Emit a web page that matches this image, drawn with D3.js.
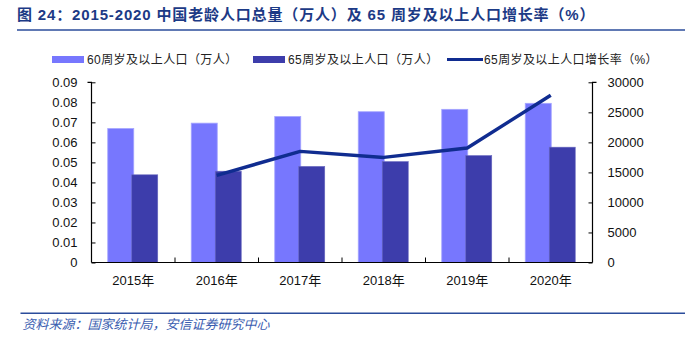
<!DOCTYPE html>
<html><head><meta charset="utf-8">
<script src="https://cdn.jsdelivr.net/npm/d3@7"></script>
<style>
body{margin:0;background:#fff;}
svg{display:block;font-family:"Liberation Sans",Arial,"Noto Sans CJK SC",sans-serif;}
</style></head>
<body>
<svg id="chart" width="685" height="346"></svg>
<script>
const years = ["2015年","2016年","2017年","2018年","2019年","2020年"];
const pop60 = [22300, 23200, 24300, 25100, 25500, 26500];
const pop65 = [14600, 15200, 16000, 16800, 17800, 19200];
const rateYears = ["2016年","2017年","2018年","2019年","2020年"];
const rate65 = [0.0435, 0.0555, 0.0525, 0.0572, 0.0835];
const leftTicks = [0,0.01,0.02,0.03,0.04,0.05,0.06,0.07,0.08,0.09];
const rightTicks = [0,5000,10000,15000,20000,25000,30000];
const legendLabels = ["60周岁及以上人口（万人）","65周岁及以上人口（万人）","65周岁及以上人口增长率（%）"];

const C_LIGHT="#7777fe", C_DARK="#3d3dab", C_LINE="#102c90", C_TITLE="#1c3a86";
const svg = d3.select("#chart");
const L=91.5, R=592.5, T=82.3, B=262.5;

const x = d3.scaleBand().domain(years).range([L,R]).padding(0);
const yR = d3.scaleLinear().domain([0,30000]).range([B,T]);
const yL = d3.scaleLinear().domain([0,0.09]).range([B,T]);

// title
svg.append("text").attr("x",17).attr("y",20).attr("fill",C_TITLE)
  .attr("font-size",15).attr("font-weight","bold").attr("letter-spacing",0.85)
  .text("图 24：2015-2020 中国老龄人口总量（万人）及 65 周岁及以上人口增长率（%）");
svg.append("line").attr("x1",17).attr("x2",685).attr("y1",30).attr("y2",30)
  .attr("stroke","#2b4c9b").attr("stroke-width",1.5);

// legend
const lg = svg.append("g").attr("font-size",12).attr("fill","#222");
const legX = [52,253,447];
lg.append("rect").attr("x",legX[0]).attr("y",56).attr("width",32).attr("height",7).attr("fill",C_LIGHT);
lg.append("rect").attr("x",legX[1]).attr("y",56).attr("width",32).attr("height",7).attr("fill",C_DARK);
lg.append("line").attr("x1",legX[2]).attr("x2",legX[2]+36).attr("y1",59.5).attr("y2",59.5).attr("stroke",C_LINE).attr("stroke-width",3);
legendLabels.forEach((t,i)=>{
  lg.append("text").attr("x",legX[i]+(i==2?37:35)).attr("y",59.5).attr("dy","0.35em")
    .attr("fill","#222").attr("letter-spacing",0.4).text(t);
});

// bars
const bw = 26;
svg.append("g").selectAll("rect").data(pop60).join("rect")
  .attr("x",(d,i)=>x(years[i])+x.bandwidth()/2-bw+0.5)
  .attr("y",d=>yR(d)).attr("width",bw).attr("height",d=>B-yR(d))
  .attr("fill",C_LIGHT).attr("stroke","#a5a5ff").attr("stroke-width",0.8);
svg.append("g").selectAll("rect").data(pop65).join("rect")
  .attr("x",(d,i)=>x(years[i])+x.bandwidth()/2-1.5)
  .attr("y",d=>yR(d)).attr("width",bw).attr("height",d=>B-yR(d))
  .attr("fill",C_DARK).attr("stroke","#6a6ac0").attr("stroke-width",0.6);

// line
const line = d3.line().x((d,i)=>x(rateYears[i])+x.bandwidth()/2).y(d=>yL(d));
svg.append("path").datum(rate65).attr("d",line).attr("fill","none")
  .attr("stroke",C_LINE).attr("stroke-width",3.5).attr("stroke-linejoin","round");

// axes
const axL = d3.axisLeft(yL).tickValues(leftTicks).tickSize(-4).tickPadding(14)
  .tickFormat(d=>d===0?"0":d3.format(".2f")(d));
const gL = svg.append("g").attr("transform",`translate(${L},0)`).call(axL);
const axR = d3.axisRight(yR).tickValues(rightTicks).tickSize(-4).tickPadding(15).tickFormat(d3.format("d"));
const gR = svg.append("g").attr("transform",`translate(${R},0)`).call(axR);
const axB = d3.axisBottom(x).tickSize(0).tickPadding(13);
const gB = svg.append("g").attr("transform",`translate(0,${B})`).call(axB);
// category boundary ticks
svg.append("g").selectAll("line").data(years.slice(1)).join("line")
  .attr("x1",d=>x(d)).attr("x2",d=>x(d)).attr("y1",B).attr("y2",B-5)
  .attr("stroke","#000").attr("stroke-width",1);
[gL,gR,gB].forEach(g=>{
  g.selectAll("text").attr("font-size",13).attr("fill","#111")
   .attr("font-family",'"Liberation Sans",Arial,"Noto Sans CJK SC",sans-serif');
  g.select(".domain").attr("stroke","#000").attr("stroke-width",1.2);
  g.selectAll(".tick line").attr("stroke","#000");
});
gL.select(".domain").attr("d",`M-4,${T}H0V${B}`);
gR.select(".domain").attr("d",`M4,${T}H0V${B}`);
gB.select(".domain").attr("d",`M${L},0H${R}`);

// footer
svg.append("line").attr("x1",20.5).attr("x2",685).attr("y1",313.3).attr("y2",313.3)
  .attr("stroke","#2b4c9b").attr("stroke-width",1.5);
svg.append("text").attr("x",22.5).attr("y",329).attr("font-size",13).attr("font-style","italic")
  .attr("fill","#3a5db0").text("资料来源：国家统计局，安信证券研究中心");
</script>
</body></html>
